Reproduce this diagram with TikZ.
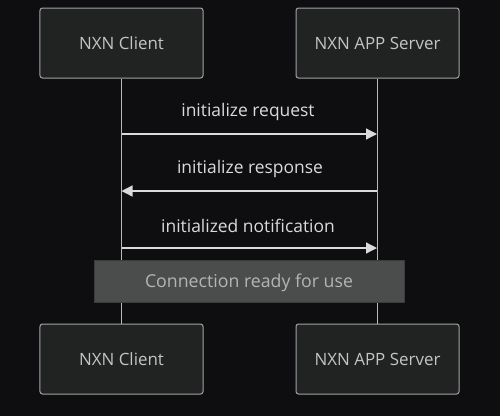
\documentclass[tikz,border=0pt]{standalone}
\usepackage{fontspec}
\setmainfont{Open Sans}
\usetikzlibrary{arrows.meta}
\definecolor{bgcol}{HTML}{0E0E10}
\definecolor{actorfill}{HTML}{212323}
\definecolor{actorline}{HTML}{A3A3A3}
\definecolor{lifecol}{HTML}{B8B8B8}
\definecolor{msgcol}{HTML}{DADADA}
\definecolor{actortext}{HTML}{C4C4C4}
\definecolor{notetext}{HTML}{B4B4B4}
\definecolor{notefill}{HTML}{4B4D4D}
\definecolor{noteline}{HTML}{3A3C3C}

\begin{document}
\begin{tikzpicture}[x=1bp,y=-1bp,
    actor/.style={draw=actorline, fill=actorfill, rounded corners=2.5bp, line width=1bp,
      minimum width=163bp, minimum height=70bp, text=actortext, font=\fontsize{17}{20}\selectfont},
    msg/.style={draw=msgcol, line width=1.3bp, -{Triangle[length=11bp,width=11bp]}},
    msglabel/.style={text=msgcol, font=\fontsize{17.5}{20}\selectfont},
    note/.style={draw=noteline, fill=notefill, line width=1bp, minimum width=310bp, minimum height=42bp},
    notelabel/.style={text=notetext, font=\fontsize{17.8}{20}\selectfont}]
        \fill[bgcol] (0,0) rectangle (500,416);
        % participants, top and bottom
        \node[actor] (client) at (121.5,43) {NXN Client};
        \node[actor] (server) at (377.5,43) {NXN APP Server};
        \node[actor] (clientb) at (121.5,359) {NXN Client};
        \node[actor] (serverb) at (377.5,359) {NXN APP Server};
        % lifelines
        \draw[lifecol, line width=1.3bp] (client.south) -- (clientb.north);
        \draw[lifecol, line width=1.3bp] (server.south) -- (serverb.north);
        % messages
        \coordinate (c1) at (121.5,134); \coordinate (s1) at (377,134);
        \coordinate (c2) at (121.5,191); \coordinate (s2) at (377,191);
        \coordinate (c3) at (121.5,248); \coordinate (s3) at (377,248);
        \draw[msg] (c1) -- (s1);
        \draw[msg] (s2) -- (c2);
        \draw[msg] (c3) -- (s3);
        \node[msglabel] (m1) at (248,112) {initialize request};
        \node[msglabel] (m2) at (250,169) {initialize response};
        \node[msglabel] (m3) at (248,226) {initialized notification};
        \node[note] (ready) at (249,281) {};
        \node[notelabel] (readytext) at (249,283) {Connection ready for use};
\end{tikzpicture}
\end{document}
